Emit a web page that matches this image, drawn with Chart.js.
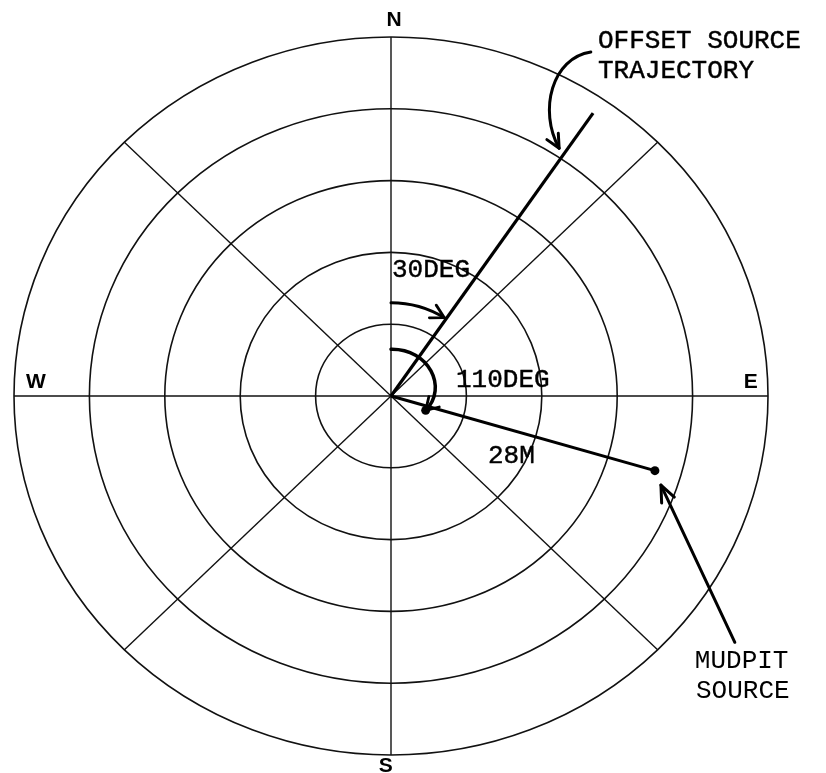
<!DOCTYPE html>
<html>
<head>
<meta charset="utf-8">
<title>Offset source trajectory</title>
<script src="https://cdn.jsdelivr.net/npm/chart.js@4.4.1/dist/chart.umd.min.js"></script>
<style>
  html, body { margin: 0; padding: 0; background: #fff; }
  #wrap { width: 826px; height: 773px; position: relative; }
</style>
</head>
<body>
<div id="wrap"><canvas id="polarChart"></canvas></div>
<script>
// ====================================
// DATA (distance units = one ring)
// ====================================
const ringRadii = [1, 2, 3, 4, 5];
const spokeBearings = [0, 45, 90, 135, 180, 225, 270, 315];

const compassLabels = ["N", "E", "S", "W"];
const compassX = [0.04, 4.77, -0.07, -4.71];
const compassY = [5.15, 0.11, -5.24, 0.11];

// offset source trajectory, from the centre outwards
const trajectoryX = [0, 2.68];
const trajectoryY = [0, 3.94];

// line from centre to the mudpit source
const mudpitX = [0, 3.5];
const mudpitY = [0, -1.04];

// text notes (last two are typed lighter)
const noteTexts = ["OFFSET SOURCE", "TRAJECTORY", "30DEG", "110DEG", "28M", "MUDPIT", "SOURCE"];
const noteX = [2.745, 2.745, 0.013, 0.862, 1.286, 4.03, 4.045];
const noteY = [4.85, 4.43, 1.66, 0.125, -0.933, -3.79, -4.21];
const noteInk = [0.45, 0.45, 0.45, 0.45, 0.45, 0, 0];

// bearing arc (degrees) and its radius
const arc30 = { radius: 1.3, from: 0, to: 33 };

function toPoints(xs, ys) {
  return xs.map((v, i) => ({ x: v, y: ys[i] }));
}

// ====================================
// HELPERS
// ====================================
function arrowHead(ctx, tipX, tipY, fromX, fromY, len, spread) {
  const ang = Math.atan2(tipY - fromY, tipX - fromX);
  ctx.beginPath();
  ctx.moveTo(tipX - len * Math.cos(ang - spread), tipY - len * Math.sin(ang - spread));
  ctx.lineTo(tipX, tipY);
  ctx.lineTo(tipX - len * Math.cos(ang + spread), tipY - len * Math.sin(ang + spread));
  ctx.stroke();
}

// ====================================
// GRID PLUGIN (rings + spokes)
// ====================================
const polarGrid = {
  id: "polarGrid",
  beforeDatasetsDraw(chart) {
    const { ctx, scales: { x, y } } = chart;
    const cx = x.getPixelForValue(0);
    const cy = y.getPixelForValue(0);
    ctx.save();
    ctx.strokeStyle = "#111";
    ctx.lineWidth = 1.6;
    ringRadii.forEach(function (r) {
      ctx.beginPath();
      ctx.ellipse(cx, cy, x.getPixelForValue(r) - cx, cy - y.getPixelForValue(r), 0, 0, Math.PI * 2);
      ctx.stroke();
    });
    const outer = ringRadii[ringRadii.length - 1];
    ctx.lineWidth = 1.4;
    spokeBearings.forEach(function (b) {
      const a = (b * Math.PI) / 180;
      const ex = x.getPixelForValue(outer * Math.sin(a));
      const ey = y.getPixelForValue(outer * Math.cos(a));
      ctx.beginPath();
      ctx.moveTo(cx, cy);
      ctx.lineTo(ex, ey);
      ctx.stroke();
    });
    ctx.restore();
  },
};

// ====================================
// NOTES PLUGIN (labels, bearing arcs, pointer arrows)
// ====================================
const polarNotes = {
  id: "polarNotes",
  afterDatasetsDraw(chart) {
    const { ctx, scales: { x, y } } = chart;
    const px = (v) => x.getPixelForValue(v);
    const py = (v) => y.getPixelForValue(v);
    const cx = px(0);
    const cy = py(0);
    ctx.save();
    ctx.strokeStyle = "#000";
    ctx.fillStyle = "#000";
    ctx.lineCap = "round";
    ctx.lineJoin = "round";

    // compass letters
    ctx.font = "bold 21px 'Liberation Sans', Arial, sans-serif";
    ctx.textAlign = "center";
    ctx.textBaseline = "alphabetic";
    compassLabels.forEach(function (t, i) {
      ctx.fillText(t, px(compassX[i]), py(compassY[i]));
    });

    // typewriter notes (a light stroke thickens the thin mono face)
    ctx.font = "26px 'Liberation Mono', 'Courier New', monospace";
    ctx.textAlign = "left";
    noteTexts.forEach(function (t, i) {
      ctx.fillText(t, px(noteX[i]), py(noteY[i]));
      if (noteInk[i] > 0) {
        ctx.lineWidth = noteInk[i];
        ctx.strokeText(t, px(noteX[i]), py(noteY[i]));
      }
    });

    // 30 deg arc
    const rx = px(arc30.radius) - cx;
    const ry = cy - py(arc30.radius);
    const a0 = ((arc30.from - 90) * Math.PI) / 180;
    const a1 = ((arc30.to - 90) * Math.PI) / 180;
    ctx.lineWidth = 3;
    ctx.beginPath();
    ctx.ellipse(cx, cy, rx, ry, 0, a0, a1);
    ctx.stroke();
    const tx = cx + rx * Math.cos(a1);
    const ty = cy + ry * Math.sin(a1);
    const bx = cx + rx * Math.cos(a1 - 0.12);
    const by = cy + ry * Math.sin(a1 - 0.12);
    ctx.lineWidth = 2.8;
    arrowHead(ctx, tx, ty, bx, by, 15, 0.5);

    // 110 deg spiral arrow
    const s0 = [px(0), py(0.65)];
    const s1 = [px(0.5), py(0.66)];
    const s2 = [px(0.76), py(0.12)];
    const s3 = [px(0.46), py(-0.2)];
    ctx.lineWidth = 3.5;
    ctx.beginPath();
    ctx.moveTo(s0[0], s0[1]);
    ctx.bezierCurveTo(s1[0], s1[1], s2[0], s2[1], s3[0], s3[1]);
    ctx.stroke();
    ctx.lineWidth = 2.8;
    arrowHead(ctx, s3[0], s3[1], s2[0], s2[1], 14, 0.55);
    ctx.beginPath();
    ctx.arc(s3[0], s3[1], 4.5, 0, Math.PI * 2);
    ctx.fill();

    // pointer to the trajectory
    const o0 = [px(2.65), py(4.79)];
    const o1 = [px(2.14), py(4.71)];
    const o2 = [px(1.95), py(3.98)];
    const o3 = [px(2.23), py(3.45)];
    ctx.lineWidth = 3;
    ctx.beginPath();
    ctx.moveTo(o0[0], o0[1]);
    ctx.bezierCurveTo(o1[0], o1[1], o2[0], o2[1], o3[0], o3[1]);
    ctx.stroke();
    arrowHead(ctx, o3[0], o3[1], o2[0], o2[1], 15, 0.45);

    // pointer to the mudpit source
    const m0 = [px(4.56), py(-3.43)];
    const m1 = [px(3.58), py(-1.24)];
    ctx.lineWidth = 3;
    ctx.beginPath();
    ctx.moveTo(m0[0], m0[1]);
    ctx.lineTo(m1[0], m1[1]);
    ctx.stroke();
    arrowHead(ctx, m1[0], m1[1], m0[0], m0[1], 18, 0.4);

    ctx.restore();
  },
};

// ====================================
// CHART
// ====================================
const ctx = document.getElementById("polarChart").getContext("2d");
new Chart(ctx, {
  type: "scatter",
  data: {
    datasets: [
      {
        label: "Offset source trajectory",
        data: toPoints(trajectoryX, trajectoryY),
        showLine: true,
        borderColor: "#000",
        borderWidth: 3.2,
        pointRadius: 0,
      },
      {
        label: "Mudpit source",
        data: toPoints(mudpitX, mudpitY),
        showLine: true,
        borderColor: "#000",
        backgroundColor: "#000",
        borderWidth: 3,
        pointRadius: [0, 4.5],
        pointBorderWidth: 0,
      },
    ],
  },
  options: {
    responsive: true,
    maintainAspectRatio: false,
    animation: false,
    layout: { padding: { left: 14, right: 58, top: 37, bottom: 18 } },
    plugins: {
      legend: { display: false },
      tooltip: { enabled: false },
    },
    scales: {
      x: { type: "linear", min: -5, max: 5, display: false },
      y: { type: "linear", min: -5, max: 5, display: false },
    },
  },
  plugins: [polarGrid, polarNotes],
});
</script>
</body>
</html>
